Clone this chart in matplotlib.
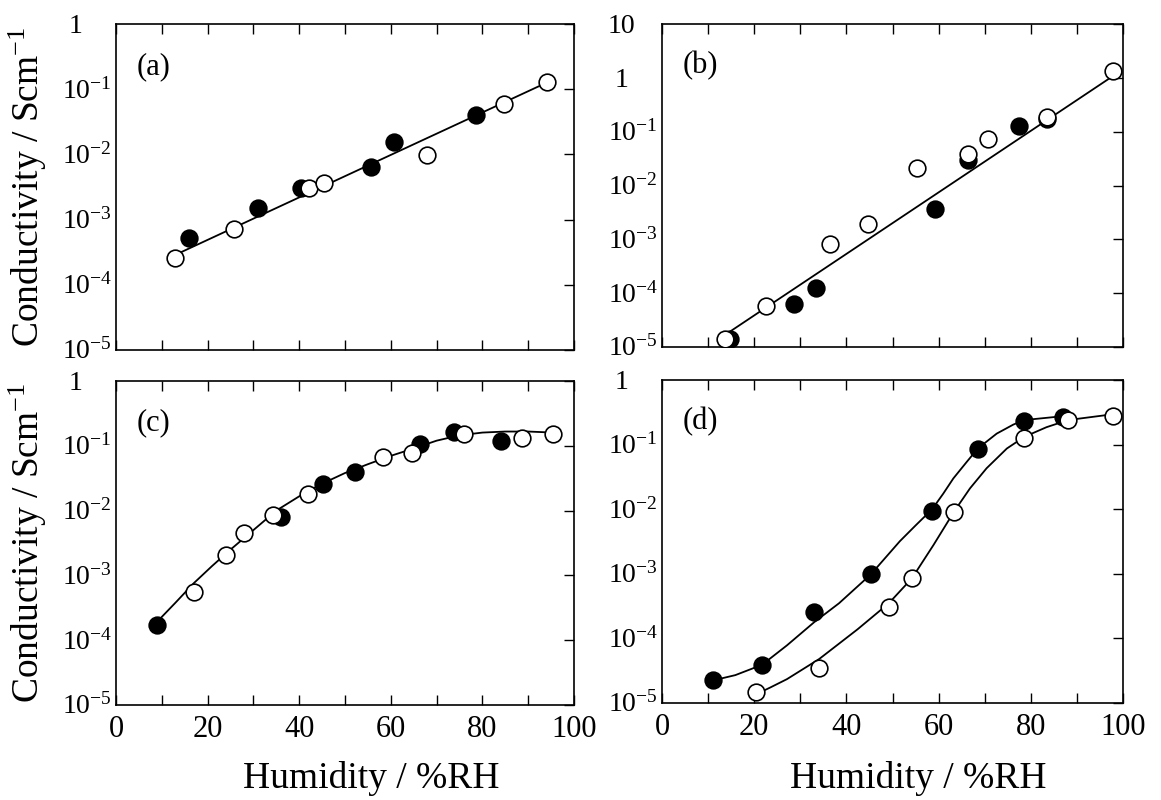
import numpy as np
import matplotlib
matplotlib.use("Agg")
import matplotlib.pyplot as plt
from matplotlib.ticker import FixedLocator, MultipleLocator, NullFormatter

plt.rcParams['font.family'] = ['Liberation Serif', 'DejaVu Serif']
plt.rcParams['mathtext.fontset'] = 'custom'
plt.rcParams['mathtext.rm'] = 'Liberation Serif'
plt.rcParams['mathtext.it'] = 'Liberation Serif:italic'

# ---- panel (a) ----
a_fill_x = [16.0, 31.0, 40.5, 55.7, 60.7, 78.6]
a_fill_y = [5.3e-4, 1.5e-3, 3.1e-3, 6.3e-3, 1.55e-2, 4.0e-2]
a_open_x = [12.9, 25.8, 42.1, 45.4, 67.9, 84.7, 94.2]
a_open_y = [2.6e-4, 7.1e-4, 3.1e-3, 3.6e-3, 9.8e-3, 5.9e-2, 1.29e-1]
a_line_x = [13.5, 93.7]
a_line_y = [3.0e-4, 1.23e-1]

# ---- panel (b) ----
b_fill_x = [14.8, 28.6, 33.3, 59.2, 66.4, 77.4, 83.4]
b_fill_y = [1.4e-5, 6.2e-5, 1.26e-4, 3.6e-3, 3.0e-2, 1.26e-1, 1.7e-1]
b_open_x = [13.6, 22.6, 36.5, 44.6, 55.4, 66.4, 70.8, 83.4, 97.8]
b_open_y = [1.4e-5, 5.8e-5, 8.3e-4, 1.9e-3, 2.1e-2, 3.9e-2, 7.2e-2, 1.9e-1, 1.35]
b_line_x = [14.2, 97.6]
b_line_y = [1.8e-5, 1.05]

# ---- panel (c) ----
c_fill_x = [8.9, 36.1, 45.3, 52.2, 66.3, 73.7, 84.1]
c_fill_y = [1.7e-4, 8.1e-3, 2.6e-2, 3.9e-2, 1.05e-1, 1.62e-1, 1.17e-1]
c_open_x = [17.0, 24.1, 28.0, 34.2, 42.0, 58.2, 64.7, 75.9, 88.7, 95.4]
c_open_y = [5.5e-4, 2.1e-3, 4.5e-3, 8.5e-3, 1.8e-2, 6.6e-2, 7.8e-2, 1.5e-1, 1.3e-1, 1.5e-1]
c_curve_x = [8.9, 13, 17, 21, 25, 30, 35, 40, 45, 50, 55, 60, 65, 70, 75, 80, 85, 90, 95.4]
c_curve_y = [1.9e-4, 3.8e-4, 7.6e-4, 1.4e-3, 2.5e-3, 5.0e-3, 1.0e-2, 1.66e-2, 2.6e-2,
             3.8e-2, 5.2e-2, 7.0e-2, 9.1e-2, 1.2e-1, 1.45e-1, 1.6e-1, 1.66e-1, 1.66e-1, 1.6e-1]

# ---- panel (d) ----
d_fill_x = [11.1, 21.7, 33.0, 45.3, 58.6, 68.5, 78.6, 86.9]
d_fill_y = [2.3e-5, 3.9e-5, 2.6e-4, 1.0e-3, 9.5e-3, 8.7e-2, 2.3e-1, 2.7e-1]
d_open_x = [20.3, 34.1, 49.2, 54.2, 63.4, 78.6, 88.1, 97.8]
d_open_y = [1.5e-5, 3.5e-5, 3.1e-4, 8.5e-4, 8.9e-3, 1.26e-1, 2.4e-1, 2.75e-1]
d_fcurve_x = [11.1, 15.9, 21.7, 27.1, 33.0, 38.4, 45.3, 51.6, 55.0, 58.6, 61.0,
              63.2, 66.1, 68.5, 72.6, 76.2, 78.6, 86.9]
d_fcurve_y = [2.24e-5, 2.7e-5, 3.9e-5, 7.8e-5, 1.78e-4, 3.5e-4, 9.8e-4, 3.2e-3, 5.6e-3,
              1.0e-2, 1.74e-2, 3.0e-2, 5.4e-2, 8.7e-2, 1.48e-1, 2.04e-1, 2.4e-1, 2.75e-1]
d_ocurve_x = [20.0, 23.5, 27.1, 34.1, 42.4, 49.2, 54.2, 58.9, 63.4, 66.8, 70.4,
              74.8, 78.6, 83.4, 88.1, 97.8]
d_ocurve_y = [1.32e-5, 1.74e-5, 2.34e-5, 4.8e-5, 1.38e-4, 3.5e-4, 8.5e-4, 2.8e-3, 9.3e-3,
              2.1e-2, 4.3e-2, 8.7e-2, 1.32e-1, 1.86e-1, 2.4e-1, 2.95e-1]

panel_labels = ['(a)', '(b)', '(c)', '(d)']


def sup_label(v):
    e = int(round(np.log10(v)))
    if e == 0:
        return '1'
    if e == 1:
        return '10'
    return r'$10^{%d}$' % e


fig = plt.figure(figsize=(11.61, 8.0), dpi=100)
ax_a = fig.add_axes([0.0999, 0.5625, 0.3945, 0.4075])
ax_b = fig.add_axes([0.5702, 0.56625, 0.3971, 0.40375])
ax_c = fig.add_axes([0.0999, 0.11875, 0.3945, 0.405])
ax_d = fig.add_axes([0.5702, 0.12125, 0.3971, 0.40375])
axes = [ax_a, ax_b, ax_c, ax_d]

mk = dict(marker='o', markersize=12, markeredgewidth=1.2, markeredgecolor='black', linestyle='none')


def pts(ax, fx, fy, ox, oy):
    ax.plot(fx, fy, markerfacecolor='black', zorder=3, **mk)
    ax.plot(ox, oy, markerfacecolor='white', zorder=4, **mk)


ax_a.plot(a_line_x, a_line_y, color='black', lw=1.3)
pts(ax_a, a_fill_x, a_fill_y, a_open_x, a_open_y)
ax_b.plot(b_line_x, b_line_y, color='black', lw=1.3)
pts(ax_b, b_fill_x, b_fill_y, b_open_x, b_open_y)
ax_c.plot(c_curve_x, c_curve_y, color='black', lw=1.3)
pts(ax_c, c_fill_x, c_fill_y, c_open_x, c_open_y)
ax_d.plot(d_fcurve_x, d_fcurve_y, color='black', lw=1.3)
ax_d.plot(d_ocurve_x, d_ocurve_y, color='black', lw=1.3)
pts(ax_d, d_fill_x, d_fill_y, d_open_x, d_open_y)

lab_off = 39   # points from left spine to start of "10"
for i, ax in enumerate(axes):
    top = 10 if i == 1 else 1
    ax.set_yscale('log')
    ax.set_ylim(1e-5, top)
    ax.set_xlim(0, 100)
    decades = [10.0 ** k for k in range(-5, int(np.log10(top)) + 1)]
    ax.yaxis.set_major_locator(FixedLocator(decades))
    ax.yaxis.set_minor_locator(FixedLocator([]))
    ax.yaxis.set_major_formatter(NullFormatter())
    ax.xaxis.set_major_locator(MultipleLocator(20))
    ax.xaxis.set_minor_locator(MultipleLocator(10))
    ax.tick_params(axis='y', which='both', direction='in', left=False, right=True,
                   labelleft=False, length=7, width=1.0)
    ax.tick_params(axis='x', which='both', direction='in', top=True, bottom=True,
                   length=7, width=1.0, labelsize=22, pad=7)
    if i < 2:
        ax.tick_params(axis='x', labelbottom=False)
    for s in ax.spines.values():
        s.set_linewidth(1.2)
    for v in decades:
        lab = sup_label(v)
        if lab == '1':
            ax.annotate(lab, xy=(0, v), xycoords=('axes fraction', 'data'),
                        xytext=(-lab_off + 10, -6.5), textcoords='offset points',
                        ha='center', va='baseline', fontsize=20, annotation_clip=False)
        else:
            ax.annotate(lab, xy=(0, v), xycoords=('axes fraction', 'data'),
                        xytext=(-lab_off, -6.5), textcoords='offset points',
                        ha='left', va='baseline', fontsize=20, annotation_clip=False)
    ax.text(0.044, 0.87, panel_labels[i], transform=ax.transAxes, fontsize=22,
            ha='left', va='center')

fig.text(28 / 1161, 0.766, 'Conductivity / Scm$^{-1}$', rotation=90, fontsize=27,
         ha='center', va='center')
fig.text(28 / 1161, 0.321, 'Conductivity / Scm$^{-1}$', rotation=90, fontsize=27,
         ha='center', va='center')
fig.text(371 / 1161, 0.015, 'Humidity / %RH', fontsize=27, ha='center', va='baseline')
fig.text(918 / 1161, 0.015, 'Humidity / %RH', fontsize=27, ha='center', va='baseline')

fig.savefig('out.png', dpi=100)
